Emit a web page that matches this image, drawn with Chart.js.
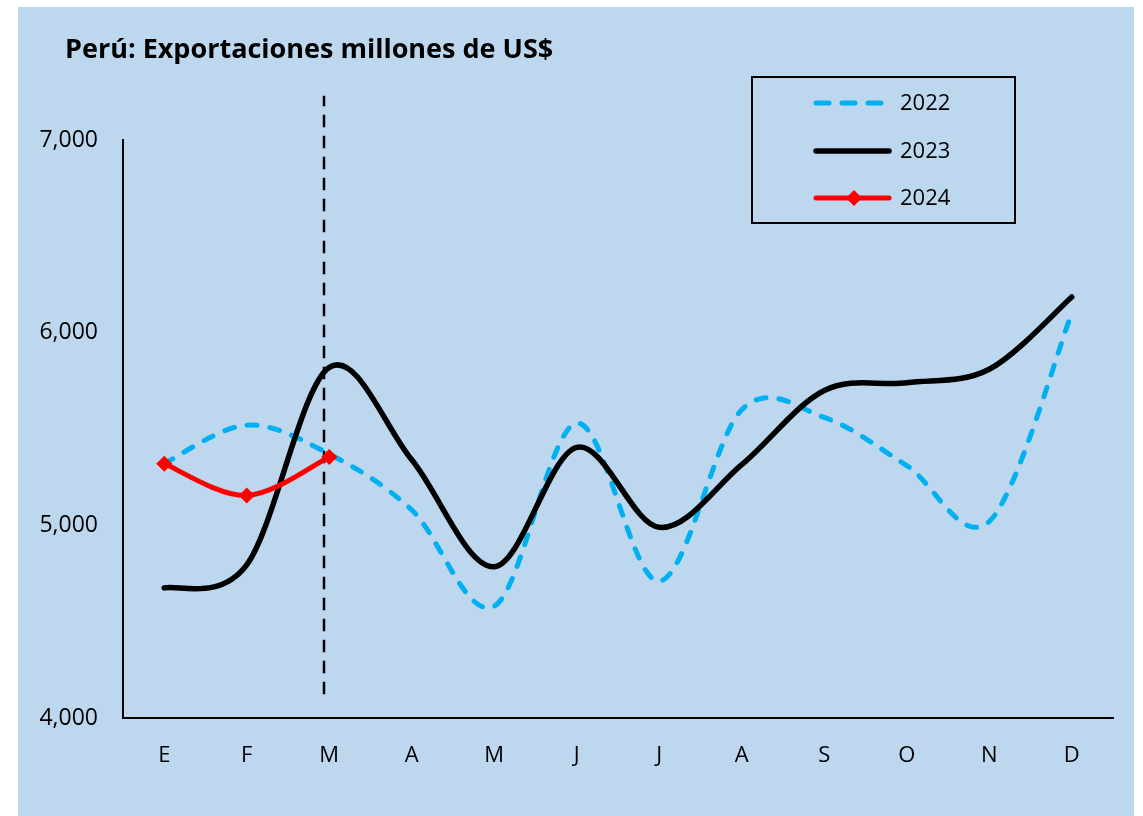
<!DOCTYPE html>
<html>
<head>
<meta charset="utf-8">
<script src="https://cdn.jsdelivr.net/npm/chart.js@4"></script>
<style>
  html, body { margin: 0; padding: 0; background: #fff; }
</style>
</head>
<body>
<canvas id="chart" width="1143" height="816"></canvas>
<script>
// Data
const months = ['E', 'F', 'M', 'A', 'M', 'J', 'J', 'A', 'S', 'O', 'N', 'D'];
const exp2022 = [5320, 5520, 5370, 5080, 4580, 5530, 4710, 5600, 5560, 5310, 5020, 6100];
const exp2023 = [4675, 4795, 5820, 5340, 4785, 5405, 4990, 5315, 5700, 5740, 5810, 6185];
const exp2024 = [5320, 5155, 5355];
const yTicks = [4000, 5000, 6000, 7000];
const titleText = 'Perú: Exportaciones millones de US$';

// vertical cut line (category position, value range)
const cutAt = 1.933;
const cutTop = 7230;
const cutBottom = 4095;

const FONT = "'Open Sans', 'Liberation Sans', sans-serif";
const BG = '#BDD7EE';
const SMOOTH = 1 / 6; // catmull-rom style smoothing, like the spreadsheet curves

// light blue panel + title
const background = {
  id: 'background',
  beforeDraw(chart) {
    const ctx = chart.ctx;
    ctx.save();
    ctx.fillStyle = BG;
    ctx.fillRect(18, 7, 1116, 809);
    ctx.fillStyle = '#000';
    ctx.font = 'bold 27px ' + FONT;
    ctx.textAlign = 'left';
    ctx.textBaseline = 'alphabetic';
    ctx.fillText(titleText, 65, 58);
    ctx.restore();
  }
};

// replace chart.js control points with evenly weighted ones
const smoothCurves = {
  id: 'smoothCurves',
  beforeDatasetsDraw(chart) {
    chart.getSortedVisibleDatasetMetas().forEach(meta => {
      const pts = meta.data;
      meta.dataset.updateControlPoints(chart.chartArea, meta.axis);
      for (let i = 0; i < pts.length; i++) {
        const p = pts[i];
        const prev = pts[Math.max(i - 1, 0)];
        const next = pts[Math.min(i + 1, pts.length - 1)];
        const dx = (next.x - prev.x) * SMOOTH;
        const dy = (next.y - prev.y) * SMOOTH;
        p.cp1x = p.x - dx; p.cp1y = p.y - dy;
        p.cp2x = p.x + dx; p.cp2y = p.y + dy;
      }
      meta.dataset._path = undefined;
    });
  }
};

// dashed vertical marker
const cutLine = {
  id: 'cutLine',
  beforeDatasetsDraw(chart) {
    const x = chart.scales.x, y = chart.scales.y;
    const i = Math.floor(cutAt);
    const p0 = x.getPixelForValue(i), p1 = x.getPixelForValue(i + 1);
    const px = Math.round(p0 + (cutAt - i) * (p1 - p0));
    const ctx = chart.ctx;
    ctx.save();
    ctx.strokeStyle = '#000';
    ctx.lineWidth = 2.5;
    ctx.setLineDash([12.5, 8.5]);
    ctx.lineDashOffset = 2;
    ctx.beginPath();
    ctx.moveTo(px, y.getPixelForValue(cutTop));
    ctx.lineTo(px, y.getPixelForValue(cutBottom));
    ctx.stroke();
    ctx.restore();
  }
};

// boxed legend in the top right
const boxLegend = {
  id: 'boxLegend',
  afterDraw(chart) {
    const ctx = chart.ctx;
    const box = { x: 752, y: 77, w: 263, h: 146 };
    const rows = [26, 74, 121];
    ctx.save();
    ctx.strokeStyle = '#000';
    ctx.lineWidth = 2;
    ctx.strokeRect(box.x, box.y, box.w, box.h);
    chart.data.datasets.forEach((ds, k) => {
      const yy = box.y + rows[k];
      ctx.strokeStyle = ds.borderColor;
      ctx.lineWidth = ds.borderWidth;
      ctx.lineCap = 'round';
      ctx.setLineDash(ds.borderDash ? [13, 13] : []);
      ctx.beginPath();
      ctx.moveTo(816, yy);
      ctx.lineTo(889, yy);
      ctx.stroke();
      ctx.setLineDash([]);
      if (ds.pointRadius) {
        const r = ds.pointRadius;
        ctx.fillStyle = ds.pointBackgroundColor;
        ctx.beginPath();
        ctx.moveTo(854, yy - r);
        ctx.lineTo(854 + r, yy);
        ctx.lineTo(854, yy + r);
        ctx.lineTo(854 - r, yy);
        ctx.closePath();
        ctx.fill();
      }
      ctx.fillStyle = '#000';
      ctx.font = '22px ' + FONT;
      ctx.textBaseline = 'middle';
      ctx.textAlign = 'left';
      ctx.fillText(ds.label, 900, yy + 1);
    });
    ctx.restore();
  }
};

new Chart(document.getElementById('chart'), {
  type: 'line',
  data: {
    labels: months,
    datasets: [
      {
        label: '2022',
        data: exp2022,
        borderColor: '#00B0F0',
        borderWidth: 5,
        borderDash: [10, 13],
        borderCapStyle: 'round',
        pointRadius: 0,
        tension: 0.4,
        order: 2
      },
      {
        label: '2023',
        data: exp2023,
        borderColor: '#000000',
        borderWidth: 5.5,
        borderCapStyle: 'round',
        pointRadius: 0,
        tension: 0.4,
        order: 1
      },
      {
        label: '2024',
        data: exp2024,
        borderColor: '#FF0000',
        borderWidth: 5,
        borderCapStyle: 'round',
        pointStyle: 'rectRot',
        pointRadius: 8,
        pointBackgroundColor: '#FF0000',
        pointBorderColor: '#FF0000',
        pointBorderWidth: 0,
        tension: 0.4,
        order: 0
      }
    ]
  },
  options: {
    responsive: false,
    animation: false,
    devicePixelRatio: 1,
    layout: { padding: { left: 0, top: 140, right: 30, bottom: 0 } },
    plugins: {
      legend: { display: false },
      tooltip: { enabled: false },
      title: { display: false }
    },
    scales: {
      x: {
        offset: true,
        grid: { display: false, drawTicks: false },
        border: { display: true, color: '#000', width: 2 },
        ticks: { color: '#000', font: { family: FONT, size: 22 }, padding: 25, maxRotation: 0 },
        afterFit(s) { s.height = 98; }
      },
      y: {
        min: 4000,
        max: 7000,
        grid: { display: false, drawTicks: false },
        border: { display: true, color: '#000', width: 2 },
        afterBuildTicks(s) { s.ticks = yTicks.map(v => ({ value: v })); },
        ticks: {
          color: '#000',
          font: { family: FONT, size: 23 },
          padding: 25,
          callback: v => v.toLocaleString('en-US')
        },
        afterFit(s) { s.width = 123; }
      }
    }
  },
  plugins: [background, smoothCurves, cutLine, boxLegend]
});
</script>
</body>
</html>
